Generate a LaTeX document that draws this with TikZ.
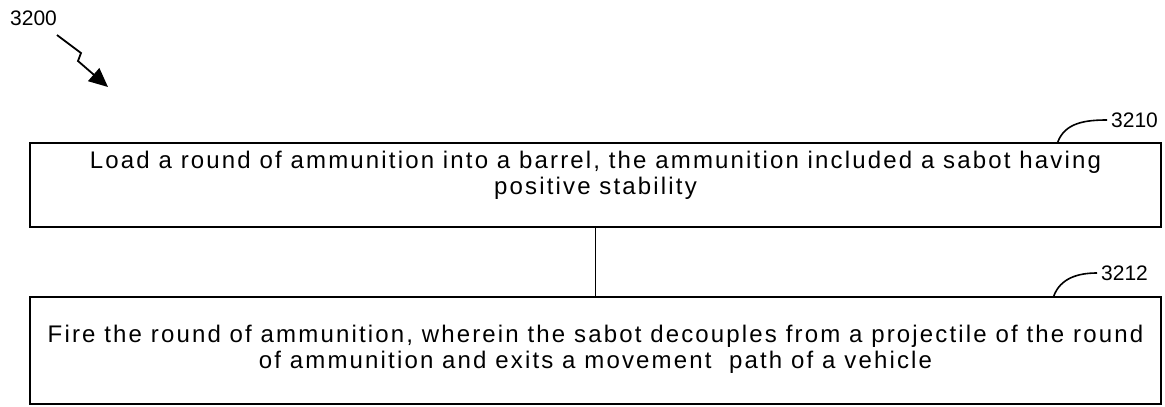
\documentclass[tikz,border=0pt]{standalone}
\usepackage{fontspec}
\setmainfont{Liberation Sans}
\newfontfamily\stepfont[LetterSpace=9]{Liberation Sans}
\usetikzlibrary{arrows.meta, positioning, calc}

\begin{document}
\begin{tikzpicture}[x=1pt, y=-1pt,
  stepbox/.style={rectangle, draw=black, line width=1.3pt, fill=white,
    minimum width=1131pt, align=center, font=\stepfont\fontsize{24}{26}\selectfont,
    inner sep=0pt},
  reflabel/.style={font=\fontsize{21}{24}\selectfont, inner sep=1pt},
  leader/.style={draw=black, line width=1.6pt},
]
  % Frame
  \useasboundingbox (0,0) rectangle (1165,407);

  % Figure number
  \node[reflabel, anchor=west] (fig) at (9,18) {3200};
  \coordinate (zA) at (57,35);
  \coordinate (zB) at (81,53);
  \coordinate (zC) at (78,61);
  \coordinate (zD) at (108,87);
  \draw[line width=1.8pt, -{Triangle[width=17pt,length=19pt]}]
    (zA) -- (zB) -- (zC) -- (zD);

  % Steps
  \node[stepbox, minimum height=84pt, text depth=25pt] (load) at (595.5,185)
    {Load a round of ammunition into a barrel, the ammunition included a sabot having\\
     positive stability};
  \node[stepbox, minimum height=107pt, text depth=8pt] (fire) at (595.5,350.5)
    {Fire the round of ammunition, wherein the sabot decouples from a projectile of the round\\
     of ammunition and exits a movement\ \ path of a vehicle};

  % Connector
  \draw[line width=1.3pt] (load.south) -- (fire.north);

  % Reference numerals
  \node[reflabel, anchor=west] (n3210) at (1110,120) {3210};
  \node[reflabel, anchor=west] (n3212) at (1100,273) {3212};
  \draw[leader] ([xshift=-104pt]load.north east) to[out=70, in=180] ([xshift=-3pt]n3210.west);
  \draw[leader] ([xshift=-108pt]fire.north east) to[out=70, in=180] ([xshift=-3pt]n3212.west);
\end{tikzpicture}
\end{document}
